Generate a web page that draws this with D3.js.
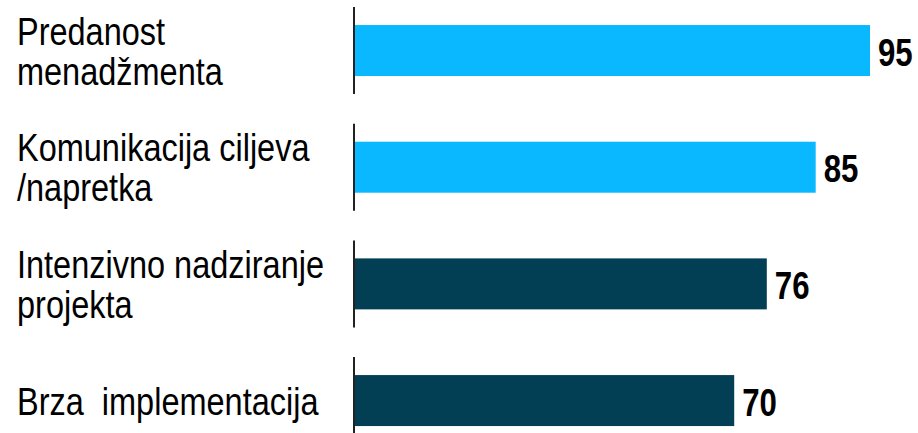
<!DOCTYPE html>
<html>
<head>
<meta charset="utf-8">
<script src="https://cdn.jsdelivr.net/npm/d3@7"></script>
<style>
  body { margin: 0; background: #fff; }
  svg { display: block; }
  text { font-family: 'Liberation Sans', Arial, sans-serif; }
</style>
</head>
<body>
<svg width="918" height="433"></svg>
<script>
// chart data
const categories = [
  ['Predanost', 'menadžmenta'],
  ['Komunikacija ciljeva', '/napretka'],
  ['Intenzivno nadziranje', 'projekta'],
  ['Brza  implementacija']
];
const values = [95, 85, 76, 70];
const barColors = ['#0ab8ff', '#0ab8ff', '#023f55', '#023f55'];

const svg = d3.select('svg');
const keys = categories.map(c => c.join(' '));

const x = d3.scaleLinear().domain([0, 95]).range([354, 870]);
const y = d3.scaleBand()
  .domain(keys)
  .range([-7.8, 458.9])
  .paddingInner(0.563)
  .paddingOuter(0.2815);

const rows = svg.selectAll('.row')
  .data(keys)
  .enter().append('g')
  .attr('class', 'row');

// bars
rows.append('rect')
  .attr('x', x(0))
  .attr('y', d => y(d))
  .attr('width', (d, i) => x(values[i]) - x(0))
  .attr('height', y.bandwidth())
  .attr('fill', (d, i) => barColors[i]);

// segmented axis line
rows.append('line')
  .attr('x1', x(0))
  .attr('x2', x(0))
  .attr('y1', d => y(d) - 18)
  .attr('y2', d => y(d) + y.bandwidth() + 18)
  .attr('stroke', '#222')
  .attr('stroke-width', 2);

// value labels (narrowed, the original uses a condensed face)
rows.append('text')
  .attr('transform', (d, i) => `translate(${x(values[i]) + 8},${y(d) + y.bandwidth() / 2 + 15}) scale(0.8,1)`)
  .attr('font-size', 39)
  .attr('font-weight', 'bold')
  .attr('fill', '#000')
  .text((d, i) => values[i]);

// category labels
const lineH = 40;
rows.append('text')
  .attr('transform', 'translate(17,0) scale(0.855,1)')
  .attr('font-size', 38)
  .attr('fill', '#000')
  .style('white-space', 'pre')
  .each(function (d, i) {
    const lines = categories[i];
    const mid = y(d) + y.bandwidth() / 2;
    const first = mid - ((lines.length - 1) * lineH) / 2 + 14;
    lines.forEach((t, j) => {
      d3.select(this).append('tspan')
        .attr('x', 0)
        .attr('y', first + j * lineH)
        .text(t);
    });
  });
</script>
</body>
</html>
